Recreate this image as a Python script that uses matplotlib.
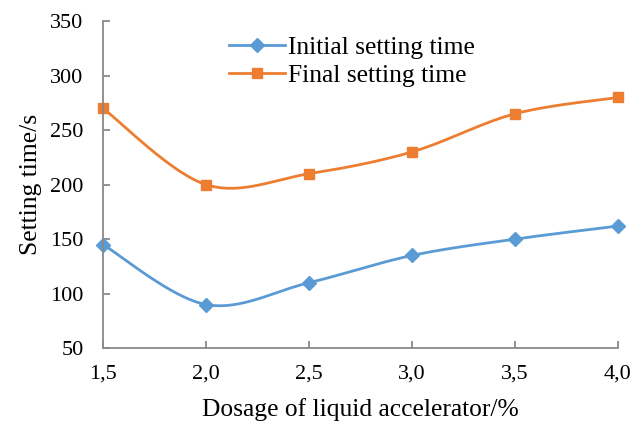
import numpy as np
import matplotlib
matplotlib.use("Agg")
import matplotlib.pyplot as plt

dosage = [1.5, 2.0, 2.5, 3.0, 3.5, 4.0]
initial = [145, 90, 110, 135, 150, 162]
final = [270, 200, 210, 230, 265, 280]
xtick_labels = ["1,5", "2,0", "2,5", "3,0", "3,5", "4,0"]
yticks = [50, 100, 150, 200, 250, 300, 350]

plt.rcParams['font.family'] = ['Liberation Serif', 'DejaVu Serif']


def smooth(x, y, n=40):
    # Excel-like Catmull-Rom smoothing via cubic Bezier segments
    x = np.asarray(x, float); y = np.asarray(y, float)
    px = np.concatenate([[x[0]], x, [x[-1]]])
    py = np.concatenate([[y[0]], y, [y[-1]]])
    xs, ys = [], []
    t = np.linspace(0, 1, n)
    for i in range(1, len(px) - 2):
        p0 = np.array([px[i], py[i]]); p3 = np.array([px[i + 1], py[i + 1]])
        c1 = p0 + (np.array([px[i + 1], py[i + 1]]) - np.array([px[i - 1], py[i - 1]])) / 6
        c2 = p3 - (np.array([px[i + 2], py[i + 2]]) - np.array([px[i], py[i]])) / 6
        b = ((1 - t) ** 3)[:, None] * p0 + (3 * (1 - t) ** 2 * t)[:, None] * c1 + \
            (3 * (1 - t) * t ** 2)[:, None] * c2 + (t ** 3)[:, None] * p3
        xs.extend(b[:, 0]); ys.extend(b[:, 1])
    return np.array(xs), np.array(ys)


fig = plt.figure(figsize=(6.33, 4.23), dpi=100)
ax = fig.add_axes([0.1627, 0.177, 0.8133, 0.773])

blue = '#5B9BD5'
orange = '#ED7D31'

sx, sy = smooth(dosage, initial)
ax.plot(sx, sy, color=blue, lw=2)
ax.plot(dosage, initial, linestyle='none', marker='D', color=blue, ms=7)
sx, sy = smooth(dosage, final)
ax.plot(sx, sy, color=orange, lw=2)
ax.plot(dosage, final, linestyle='none', marker='s', color=orange, ms=7.5)

h1, = ax.plot([], [], color=blue, lw=2, marker='D', ms=7)
h2, = ax.plot([], [], color=orange, lw=2, marker='s', ms=7.5)
ax.legend([h1, h2], ["Initial setting time", "Final setting time"], loc='upper left',
          bbox_to_anchor=(0.2, 1.025), frameon=False, fontsize=18.4, handlelength=2.2,
          handletextpad=0.1, labelspacing=0.2)

ax.set_xlim(1.5, 4.0)
ax.set_ylim(50, 350)
ax.set_xticks(dosage)
ax.set_xticklabels(xtick_labels)
ax.set_yticks(yticks)
for s in ['top', 'right']:
    ax.spines[s].set_visible(False)
for s in ['left', 'bottom']:
    ax.spines[s].set_color('#898989')
    ax.spines[s].set_linewidth(1.3)
ax.tick_params(axis='both', direction='in', length=5, width=1.3, color='#898989',
               labelsize=16)
ax.tick_params(axis='y', pad=14)
ax.tick_params(axis='x', pad=12)
ax.set_xlabel("Dosage of liquid accelerator/%", fontsize=18.4, labelpad=10)
ax.set_ylabel("Setting time/s", fontsize=18.4, labelpad=6)
for c in ax.lines:
    c.set_clip_on(False)

fig.savefig("out.png", dpi=100)
